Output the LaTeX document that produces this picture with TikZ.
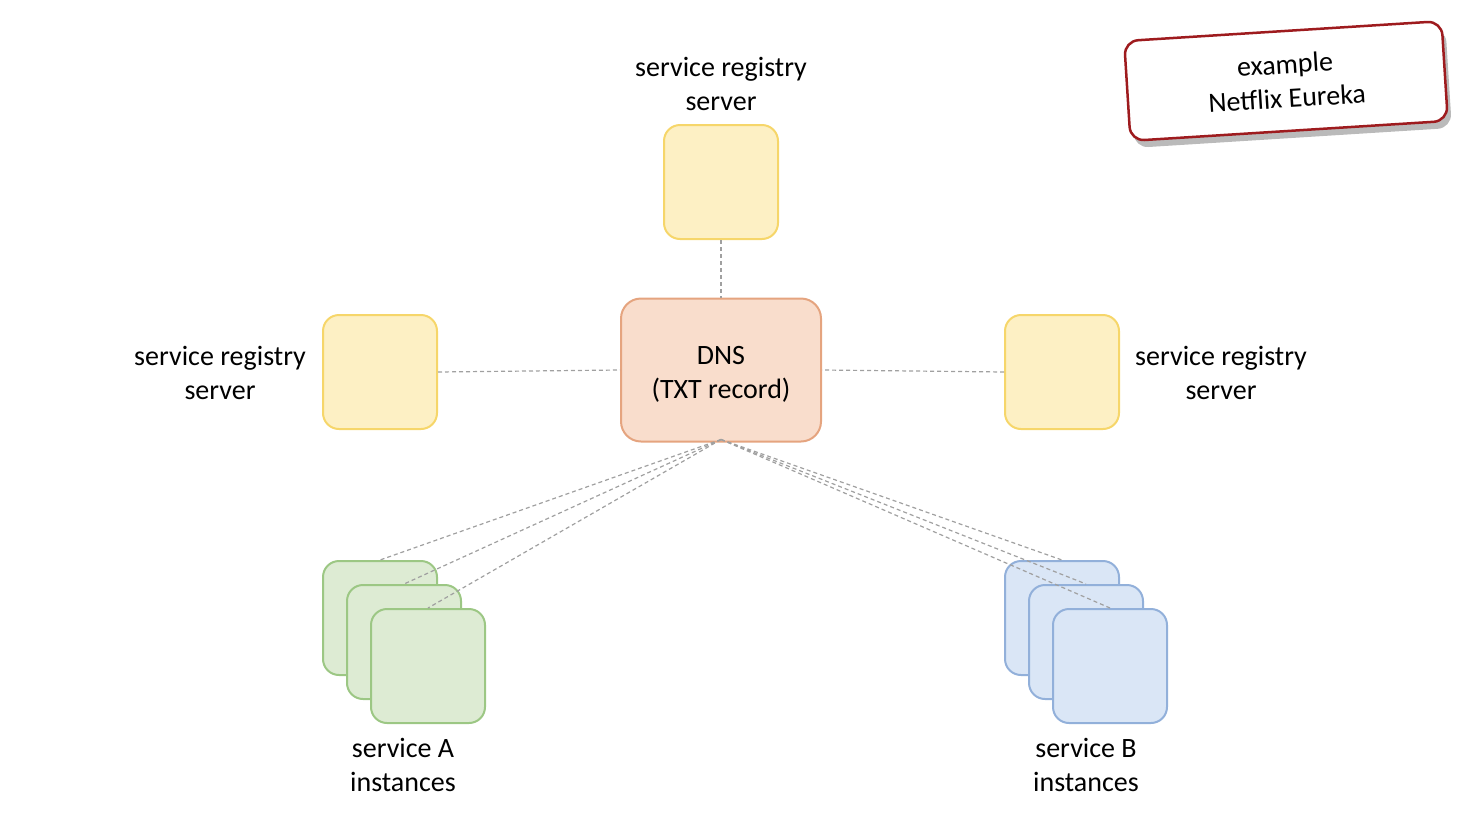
\documentclass[tikz,border=0pt]{standalone}
\usepackage{fontspec}
\setmainfont{Carlito}
\usetikzlibrary{shadows}
\definecolor{yfill}{HTML}{FDF0C4}
\definecolor{ydraw}{HTML}{F6D66A}
\definecolor{dfill}{HTML}{F9DDCC}
\definecolor{ddraw}{HTML}{E5A47F}
\definecolor{gfill}{HTML}{DDEBD3}
\definecolor{gdraw}{HTML}{9CC784}
\definecolor{bfill}{HTML}{DAE6F6}
\definecolor{bdraw}{HTML}{92B0DA}
\definecolor{lgray}{HTML}{A0A0A0}
\definecolor{cred}{HTML}{9E1B1E}
\tikzset{
  every node/.style={font=\fontsize{28}{34}\selectfont},
  sq/.style={rectangle, rounded corners=16pt, line width=2pt, minimum width=114pt, minimum height=114pt, inner sep=0pt},
  yel/.style={sq, fill=yfill, draw=ydraw},
  grn/.style={sq, fill=gfill, draw=gdraw},
  blu/.style={sq, fill=bfill, draw=bdraw},
  lbl/.style={align=center, text=black},
  conn/.style={draw=lgray, dashed, dash pattern=on 4pt off 3pt, line width=1.2pt}
}
\begin{document}
\begin{tikzpicture}[x=1pt,y=-1pt]
\useasboundingbox (0,0) rectangle (1481,836);
% registry servers
\node[yel] (top) at (721,182) {};
\node[yel] (left) at (380,372) {};
\node[yel] (right) at (1062,372) {};
% DNS
\node[rectangle, rounded corners=20pt, line width=2pt, fill=dfill, draw=ddraw, minimum width=200pt, minimum height=143pt,
  label={[lbl, yshift=-4pt]center:DNS\\(TXT record)}] (dns) at (721,370) {};
% service A instances
\node[grn] (a1) at (380,618) {};
\node[grn] (a2) at (404,642) {};
\node[grn] (a3) at (428,666) {};
% service B instances
\node[blu] (b1) at (1062,618) {};
\node[blu] (b2) at (1086,642) {};
\node[blu] (b3) at (1110,666) {};
% labels
\node[lbl] (ltop) at (721,84) {service registry\\server};
\node[lbl] (lleft) at (220,373) {service registry\\server};
\node[lbl] (lright) at (1221,373) {service registry\\server};
\node[lbl] (la) at (403,765) {service A\\instances};
\node[lbl] (lb) at (1086,765) {service B\\instances};
% connectors
\draw[conn] (top.south) -- (dns.north);
\draw[conn] (left.east) -- (dns.west);
\draw[conn] (right.west) -- (dns.east);
\coordinate (dnsb) at ([yshift=3pt]dns.south);
\draw[conn] (dnsb) -- (a1.north);
\draw[conn] (dnsb) -- (a2.north);
\draw[conn] (dnsb) -- (a3.north);
\draw[conn] (dnsb) -- (b1.north);
\draw[conn] (dnsb) -- (b2.north);
\draw[conn] (dnsb) -- (b3.north);
% callout
\node[rectangle, rounded corners=14pt, line width=2.5pt, draw=cred, fill=white, minimum width=318pt, minimum height=100pt, align=center, rotate=3.6, drop shadow={shadow xshift=4pt, shadow yshift=-7pt, opacity=0.45, fill=black!60}] (ex) at (1286,81) {example\\Netflix Eureka};
\end{tikzpicture}
\end{document}
